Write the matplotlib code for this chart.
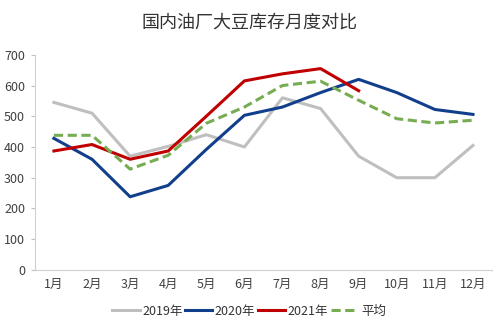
import numpy as np
import matplotlib
matplotlib.use("Agg")
import matplotlib.pyplot as plt

plt.rcParams['font.family'] = ['Noto Sans CJK SC', 'DejaVu Sans']

# 月份和各年度库存（万吨）
months = ['1月', '2月', '3月', '4月', '5月', '6月', '7月', '8月', '9月', '10月', '11月', '12月']
y2019 = [545, 510, 370, 402, 440, 400, 560, 525, 370, 300, 300, 405]
y2020 = [428, 360, 238, 275, 392, 503, 530, 577, 620, 577, 522, 506]
y2021 = [387, 408, 360, 387, 500, 615, 638, 655, 583]
avg = [438, 438, 328, 373, 477, 530, 600, 614, 552, 492, 478, 487]

fig = plt.figure(figsize=(4.98, 3.32), dpi=100)
ax = fig.add_axes([0.070, 0.187, 0.918, 0.648])

x = np.arange(len(months))
ax.plot(x, y2019, color='#BFBFBF', lw=2.2, label='2019年')
ax.plot(x, y2020, color='#123F8C', lw=2.2, label='2020年')
ax.plot(x[:len(y2021)], y2021, color='#C00000', lw=2.2, label='2021年')
ax.plot(x, avg, color='#77AD52', lw=2.2, ls=(0, (3, 1.5)), label='平均')

ax.set_xlim(-0.5, 11.5)
ax.set_ylim(0, 700)
ax.set_yticks(range(0, 701, 100))
ax.set_xticks(x)
ax.set_xticklabels(months)
ax.tick_params(axis='both', labelsize=9, colors='#404040', length=0, pad=6)
ax.tick_params(axis='y', length=3, color='#BFBFBF', pad=4)
for s in ['top', 'right']:
    ax.spines[s].set_visible(False)
ax.spines['left'].set_color('#D0D0D0')
ax.spines['bottom'].set_color('#D0D0D0')

fig.suptitle('国内油厂大豆库存月度对比', x=0.5, y=0.96, fontsize=13, color='#333333')
fig.legend(loc='center', bbox_to_anchor=(0.5, 0.063), ncol=4, frameon=False,
           fontsize=9, handlelength=2.2, handletextpad=0.2, columnspacing=0.2,
           labelcolor='#333333')

fig.savefig('out.png', dpi=100)
